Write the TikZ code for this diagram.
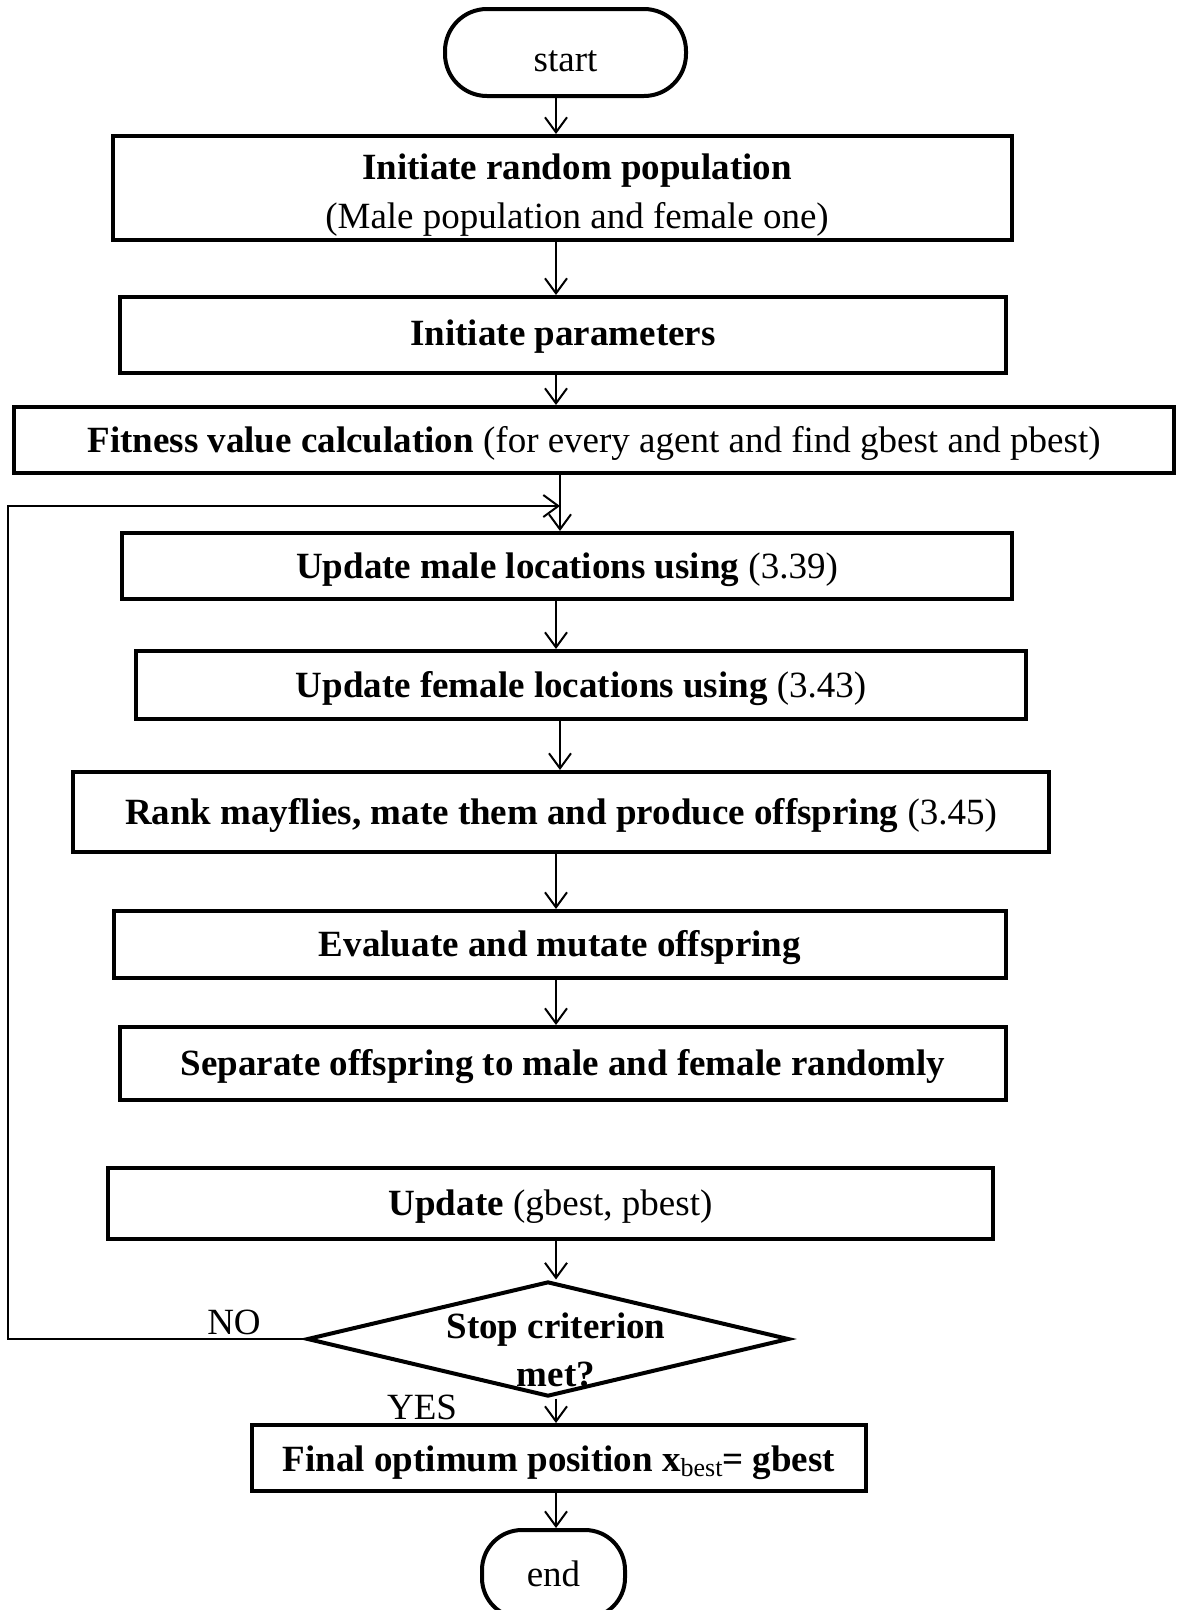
\documentclass[tikz,border=0pt]{standalone}
\usepackage{fontspec}
\setmainfont{Liberation Serif}
\usetikzlibrary{arrows.meta,shapes.geometric}

\tikzset{
  txt/.style={inner sep=0pt, align=center, font=\fontsize{37}{49}\selectfont},
  oneline/.style={text height=30pt, text depth=6pt},
  procbox/.style={txt, draw, line width=4pt, rectangle},
  termbox/.style={txt, draw, line width=4pt, rectangle},
  arr/.style={line width=2pt, -{Straight Barb[length=15pt,width=22pt]}},
}

\begin{document}
\begin{tikzpicture}[x=1pt, y=-1pt]
  \fill[white] (0,0) rectangle (1177,1610);
  \useasboundingbox (0,0) rectangle (1177,1610);
  \clip (0,0) rectangle (1177,1610);

  % columns used by the vertical connectors
  \coordinate (cA) at (556,0);
  \coordinate (cB) at (560,0);

  % terminals
  \node[termbox, rounded corners=42pt, minimum width=241, minimum height=87, text height=37pt, text depth=0pt] (start) at (565.5,52.5) {start};
  \node[termbox, rounded corners=40pt, minimum width=143, minimum height=88] (end) at (553.5,1574) {end};

  % process steps
  \node[procbox, minimum width=899, minimum height=104] (init) at (562.5,188) {};
  \node[txt] (initT) at (577,195) {\textbf{Initiate random population}\\(Male population and female one)};
  \node[procbox, oneline, text height=26pt, minimum width=886, minimum height=76] (par) at (563,335) {\textbf{Initiate parameters}};
  \node[procbox, oneline, minimum width=1160, minimum height=66] (fit) at (594,440) {\textbf{Fitness value calculation} (for every agent and find gbest and pbest)};
  \node[procbox, oneline, minimum width=890, minimum height=66] (male) at (567,566) {\textbf{Update male locations using} (3.39)};
  \node[procbox, oneline, minimum width=890, minimum height=68] (female) at (581,685) {\textbf{Update female locations using} (3.43)};
  \node[procbox, oneline, minimum width=976, minimum height=80] (rank) at (561,812) {\textbf{Rank mayflies, mate them and produce offspring} (3.45)};
  \node[procbox, oneline, minimum width=892, minimum height=67] (eval) at (560,944.5) {\textbf{Evaluate and mutate offspring}};
  \node[procbox, oneline, minimum width=886, minimum height=73] (sep) at (563,1063.5) {\textbf{Separate offspring to male and female randomly}};
  \node[procbox, oneline, minimum width=885, minimum height=71] (upd) at (550.5,1203.5) {\textbf{Update} (gbest, pbest)};
  \node[procbox, minimum width=614, minimum height=66, text height=32pt, text depth=6pt] (fin) at (559,1458) {\textbf{Final optimum position x}\raisebox{-5pt}{\fontsize{26}{26}\selectfont best}\textbf{= gbest}};

  % decision
  \node[draw, diamond, line width=4pt, inner sep=0pt, minimum width=482, minimum height=115] (dia) at (548,1339) {};
  \node[txt] (diaT) at (556,1350) {\textbf{Stop criterion}\\[-1pt]\textbf{met?}};
  \node[txt] (no) at (234,1322) {NO};
  \node[txt] (yes) at (422,1407) {YES};

  % main flow
  \draw[arr] (start.south -| cA) -- (init.north -| cA);
  \draw[arr] (init.south -| cA) -- (par.north -| cA);
  \draw[arr] (par.south -| cA) -- (fit.north -| cA);
  \draw[arr] (fit.south -| cB) -- (male.north -| cB);
  \draw[arr] (male.south -| cA) -- (female.north -| cA);
  \draw[arr] (female.south -| cB) -- (rank.north -| cB);
  \draw[arr] (rank.south -| cA) -- (eval.north -| cA);
  \draw[arr] (eval.south -| cA) -- (sep.north -| cA);
  \draw[arr] (upd.south -| cA) -- (dia.north -| cA);
  \draw[arr] (dia.south -| cA) -- (fin.north -| cA);
  \draw[arr] (fin.south -| cA) -- (end.north -| cA);

  % loop back when the criterion is not met
  \coordinate (loopTop) at (8,506);
  \coordinate (loopEnd) at (560,506);
  \draw[arr] (dia.west) -| (loopTop) -- (loopEnd);
\end{tikzpicture}
\end{document}
